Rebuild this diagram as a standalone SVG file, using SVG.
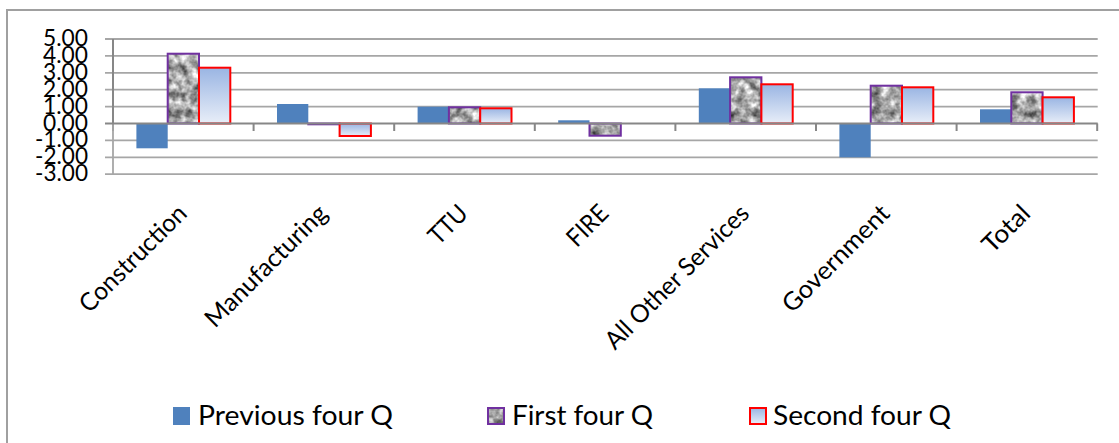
<svg xmlns="http://www.w3.org/2000/svg" width="1119" height="443" viewBox="0 0 1119 443">
<style>
.grid{stroke:#a6a6a6;stroke-width:1.8;fill:none}
.axis{stroke:#878787;stroke-width:2;fill:none}
.border{stroke:#a0a0a0;stroke-width:2;fill:none}
.ylab{font-family:Lato,"Liberation Sans",sans-serif;font-size:23.5px;fill:#000;text-anchor:end}
.xlab{font-family:Lato,"Liberation Sans",sans-serif;font-size:25px;fill:#000;text-anchor:end}
.leg{font-family:Lato,"Liberation Sans",sans-serif;font-size:26px;fill:#000}
.prev{fill:#4f81bd}
.first{fill:url(#granite);stroke:#7030a0;stroke-width:2}
.second{fill:url(#blueGrad);stroke:#ff0000;stroke-width:2}
</style>
<defs>
<filter id="noise" x="0" y="0" width="1119" height="443" filterUnits="userSpaceOnUse" color-interpolation-filters="sRGB">
<feTurbulence type="fractalNoise" baseFrequency="0.11" numOctaves="3" seed="7"/>
<feColorMatrix type="matrix" values="1.25 0 0 0 0.03  1.25 0 0 0 0.03  1.25 0 0 0 0.03  0 0 0 0 1"/>
</filter>
<pattern id="granite" patternUnits="userSpaceOnUse" x="0" y="0" width="1119" height="443">
<rect x="0" y="0" width="1119" height="443" fill="#999" filter="url(#noise)"/>
</pattern>
<linearGradient id="blueGrad" x1="0" y1="0" x2="0" y2="1">
<stop offset="0" stop-color="#9ab5e3"/>
<stop offset="1" stop-color="#e8eef8"/>
</linearGradient>
</defs>
<rect x="0" y="0" width="1119" height="443" fill="#ffffff"/>
<g id="chart-border">
<path class="border" d="M7,443 V10 H1119"/>
</g>
<g id="gridlines">
<path class="grid" d="M105,39 H1097.7 M105,55.9 H1097.7 M105,72.8 H1097.7 M105,89.7 H1097.7 M105,106.6 H1097.7 M105,140.4 H1097.7 M105,157.3 H1097.7 M105,174.2 H1097.7"/>
</g>
<g id="y-axis">
<path class="axis" d="M113,39 V131"/>
<path class="grid" d="M113,123.5 V174.2"/>
<text class="ylab" x="88" y="46" textLength="45" lengthAdjust="spacingAndGlyphs">5.00</text>
<text class="ylab" x="88" y="62.9" textLength="45" lengthAdjust="spacingAndGlyphs">4.00</text>
<text class="ylab" x="88" y="79.8" textLength="45" lengthAdjust="spacingAndGlyphs">3.00</text>
<text class="ylab" x="88" y="96.7" textLength="45" lengthAdjust="spacingAndGlyphs">2.00</text>
<text class="ylab" x="88" y="113.6" textLength="45" lengthAdjust="spacingAndGlyphs">1.00</text>
<text class="ylab" x="88" y="130.5" textLength="45" lengthAdjust="spacingAndGlyphs">0.00</text>
<text class="ylab" x="88" y="147.4" textLength="53" lengthAdjust="spacingAndGlyphs">-1.00</text>
<text class="ylab" x="88" y="164.3" textLength="53" lengthAdjust="spacingAndGlyphs">-2.00</text>
<text class="ylab" x="88" y="181.2" textLength="53" lengthAdjust="spacingAndGlyphs">-3.00</text>
</g>
<g id="series-previous">
<rect class="prev" x="136.4" y="123.5" width="31.3" height="24.8"/>
<rect class="prev" x="277" y="104" width="31.3" height="19.5"/>
<rect class="prev" x="417.6" y="106.7" width="31.3" height="16.8"/>
<rect class="prev" x="558.2" y="120.3" width="31.3" height="3.2"/>
<rect class="prev" x="698.8" y="88.3" width="31.3" height="35.2"/>
<rect class="prev" x="839.4" y="123.5" width="31.3" height="33.8"/>
<rect class="prev" x="980" y="109.3" width="31.3" height="14.2"/>
</g>
<g id="series-first">
<rect class="first" x="167.7" y="53.7" width="31.3" height="69.8"/>
<rect class="first" x="308.3" y="123.5" width="31.3" height="0.8"/>
<rect class="first" x="448.9" y="107.3" width="31.3" height="16.2"/>
<rect class="first" x="589.5" y="123.5" width="31.3" height="12.2"/>
<rect class="first" x="730.1" y="77.3" width="31.3" height="46.2"/>
<rect class="first" x="870.7" y="85.7" width="31.3" height="37.8"/>
<rect class="first" x="1011.3" y="92.3" width="31.3" height="31.2"/>
</g>
<g id="series-second">
<rect class="second" x="199" y="67.7" width="31.3" height="55.8"/>
<rect class="second" x="339.6" y="123.5" width="31.3" height="12.5"/>
<rect class="second" x="480.2" y="108.3" width="31.3" height="15.2"/>
<rect class="second" x="761.4" y="84.3" width="31.3" height="39.2"/>
<rect class="second" x="902" y="87.3" width="31.3" height="36.2"/>
<rect class="second" x="1042.6" y="97.3" width="31.3" height="26.2"/>
</g>
<g id="x-axis">
<path class="axis" d="M105,123.5 H1097.7 M253.6,123.5 V131 M394.2,123.5 V131 M534.8,123.5 V131 M675.4,123.5 V131 M816,123.5 V131 M956.6,123.5 V131 M1097.2,123.5 V131"/>
<text class="xlab" transform="translate(188.3,215) rotate(-45)" textLength="140" lengthAdjust="spacingAndGlyphs">Construction</text>
<text class="xlab" transform="translate(328.9,215) rotate(-45)" textLength="161" lengthAdjust="spacingAndGlyphs">Manufacturing</text>
<text class="xlab" transform="translate(469.5,215) rotate(-45)" textLength="44" lengthAdjust="spacingAndGlyphs">TTU</text>
<text class="xlab" transform="translate(610.1,215) rotate(-45)" textLength="47" lengthAdjust="spacingAndGlyphs">FIRE</text>
<text class="xlab" transform="translate(750.7,215) rotate(-45)" textLength="192" lengthAdjust="spacingAndGlyphs">All Other Services</text>
<text class="xlab" transform="translate(891.3,215) rotate(-45)" textLength="140" lengthAdjust="spacingAndGlyphs">Government</text>
<text class="xlab" transform="translate(1031.9,215) rotate(-45)" textLength="56" lengthAdjust="spacingAndGlyphs">Total</text>
</g>
<g id="legend">
<g id="legend-previous">
<rect class="prev" x="173" y="407" width="17" height="18"/>
<text class="leg" x="198" y="425" textLength="195" lengthAdjust="spacingAndGlyphs">Previous four Q</text>
</g>
<g id="legend-first">
<rect class="first" x="488" y="408" width="16" height="16"/>
<text class="leg" x="512" y="425" textLength="141" lengthAdjust="spacingAndGlyphs">First four Q</text>
</g>
<g id="legend-second">
<rect class="second" x="750" y="408" width="16" height="16"/>
<text class="leg" x="773" y="425" textLength="178" lengthAdjust="spacingAndGlyphs">Second four Q</text>
</g>
</g>
</svg>
